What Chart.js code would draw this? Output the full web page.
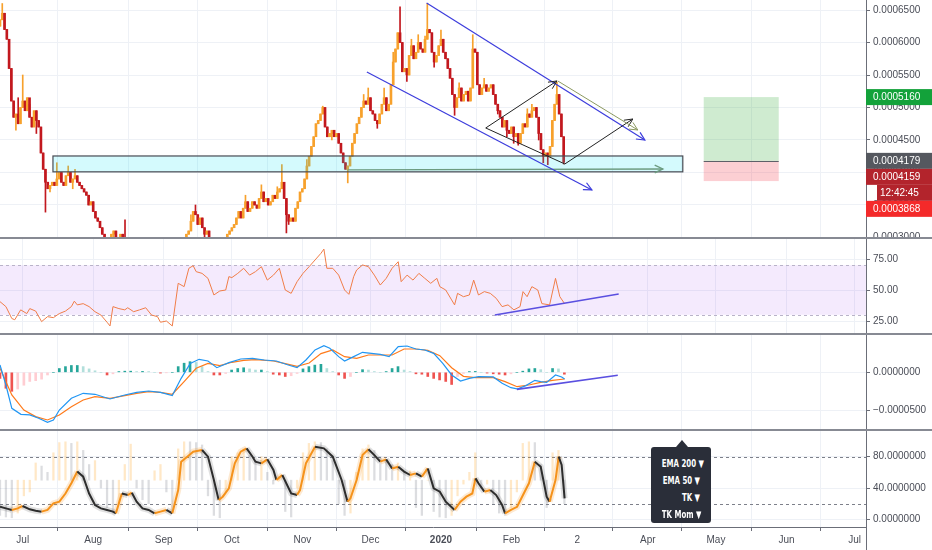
<!DOCTYPE html>
<html>
<head>
<meta charset="utf-8">
<title>Price chart</title>
<script src="https://cdn.jsdelivr.net/npm/chart.js@4.4.1/dist/chart.umd.min.js"></script>
<style>
  html, body { margin: 0; padding: 0; background: #fff; }
  body { position: relative; width: 932px; height: 550px; overflow: hidden; font-family: "Liberation Sans", Arial, sans-serif; }
  canvas { position: absolute; left: 0; }
  .sep { position: absolute; left: 0; width: 932px; height: 2px; background: #878a93; z-index: 2; }
  #tail { position: absolute; left: 866px; top: 527px; width: 1px; height: 23px; background: #6b6e78; }
  #menu {
    position: absolute; left: 651px; top: 447px; width: 60px; height: 76px;
    background: #2a2e39; border-radius: 3px; box-sizing: border-box;
    padding: 8px 11px 0 0; text-align: right; color: #fff; z-index: 3;
    font-family: "DejaVu Sans Condensed", "Liberation Sans", sans-serif;
    font-size: 10px; font-weight: bold; line-height: 17px;
  }
  #menu div { transform: scaleX(0.78); transform-origin: right center; white-space: nowrap; }
  #menu::before {
    content: ""; position: absolute; left: 25px; top: -7px;
    border-left: 6px solid transparent; border-right: 6px solid transparent; border-bottom: 7px solid #2a2e39;
  }
</style>
</head>
<body>
<canvas id="price" width="932" height="238" style="top:0"></canvas>
<canvas id="rsi" width="932" height="95" style="top:239px"></canvas>
<canvas id="macd" width="932" height="95" style="top:335px"></canvas>
<canvas id="stoch" width="932" height="119" style="top:431px"></canvas>
<div class="sep" style="top:237px"></div>
<div class="sep" style="top:333px"></div>
<div class="sep" style="top:429px"></div>
<div id="tail"></div>
<div id="menu"><div>EMA 200 ▼</div><div>EMA 50 ▼</div><div>TK ▼</div><div>TK Mom ▼</div></div>

<script>
// days are counted from 1 Jul 2019, prices are in units of 0.0001
const monthStarts = [0, 31, 62, 92, 123, 153, 184, 215, 244, 275, 305, 336, 366];
const monthNames = ["Jul", "Aug", "Sep", "Oct", "Nov", "Dec", "2020", "Feb", "2", "Apr", "May", "Jun", "Jul"];

const firstDay = -10;
const firstOpen = 6.25;
const closes = [
  6.35, 6.45, 6.2, 6.05, 5.6, 5.1, 4.85, 4.9, 4.75, 5.0,
  5.1, 4.95, 5.15, 4.85, 4.7, 4.95, 4.8, 4.7, 4.3, 4.05,
  3.85, 3.75, 3.8, 3.85, 3.8, 3.9, 4.0, 3.85, 3.8, 3.95,
  4.0, 3.85, 3.9, 3.95, 3.85, 3.8, 3.75, 3.7, 3.65, 3.5,
  3.55, 3.4, 3.3, 3.25, 3.15, 3.05, 2.95, 2.9, 2.95, 3.05,
  3.1, 3.0, 2.95, 3.05, 2.9, 2.85, 2.85, 2.8, 2.75, 2.8,
  2.85, 2.8, 2.7, 2.75, 2.8, 2.85, 2.8, 2.75, 2.8, 2.85,
  2.8, 2.75, 2.7, 2.65, 2.75, 2.8, 2.7, 2.65, 2.7, 2.75,
  2.85, 2.95, 3.05, 3.1, 3.25, 3.4, 3.35, 3.2, 3.3, 3.15,
  3.05, 3.1, 2.95, 2.9, 2.85, 2.9, 2.85, 2.9, 2.95, 3.0,
  3.05, 3.1, 3.15, 3.2, 3.3, 3.4, 3.3, 3.45, 3.55, 3.4,
  3.45, 3.55, 3.5, 3.45, 3.6, 3.7, 3.55, 3.6, 3.5, 3.55,
  3.65, 3.6, 3.7, 3.75, 3.85, 3.6, 3.35, 3.25, 3.3, 3.25,
  3.45, 3.55, 3.7, 3.75, 3.9, 4.1, 4.25, 4.4, 4.55, 4.75,
  4.8, 4.9, 5.0, 4.7, 4.55, 4.6, 4.65, 4.55, 4.6, 4.45,
  4.3, 4.15, 4.05, 4.1, 4.25, 4.45, 4.6, 4.75, 4.85, 5.0,
  5.1, 5.05, 5.15, 4.95, 4.9, 4.8, 4.75, 4.9, 5.05, 5.15,
  4.95, 5.05, 5.35, 5.7, 5.9, 6.15, 6.0, 5.55, 5.6, 5.5,
  5.8, 5.95, 5.75, 5.85, 6.0, 5.9, 5.85, 6.05, 6.2, 6.15,
  5.85, 5.7, 5.8, 5.95, 6.05, 5.85, 5.75, 5.6, 5.45, 5.2,
  5.0, 5.15, 5.3, 5.1, 5.2, 5.25, 5.1, 5.3, 5.9, 5.85,
  5.35, 5.2, 5.3, 5.35, 5.25, 5.3, 5.35, 5.2, 5.05, 4.95,
  4.85, 4.7, 4.8, 4.65, 4.6, 4.7, 4.55, 4.6, 4.45, 4.6,
  4.75, 4.7, 4.9, 4.85, 4.95, 5.0, 4.85, 4.6, 4.35, 4.25,
  4.3, 4.25, 4.4, 4.8, 5.05, 5.2, 4.9, 4.55, 4.159
];
// visible wicks, by day
const wickHigh = {
  "-9": 6.6, "-2": 5.15, 0: 5.5, 3: 5.05, 15: 4.15, 20: 4.1, 23: 4.05, 29: 3.65, 45: 3.27,
  74: 3.35, 76: 3.5, 98: 3.65, 105: 3.81, 112: 3.78, 114: 4.12, 125: 4.2, 132: 5.02,
  150: 5.2, 152: 5.3, 159: 5.3, 163: 5.85, 166: 6.55, 171: 6.05, 174: 6.12, 177: 6.1,
  178: 6.6, 184: 6.19, 192: 5.38, 198: 6.12, 203: 5.45, 222: 4.98, 224: 5.05, 235: 5.39
};
const wickLow = {
  "-3": 4.65, 6: 4.6, 10: 3.39, 12: 3.7, 22: 3.75, 40: 3.0, 80: 2.98, 116: 3.07, 117: 3.2,
  136: 4.5, 143: 3.84, 156: 4.68, 169: 5.4, 181: 5.62, 190: 4.88, 209: 4.9, 213: 4.55,
  216: 4.45, 218: 4.42, 227: 4.5, 229: 4.15, 231: 4.12, 238: 4.13
};
const priceTicks = [3.0, 3.5, 4.0, 4.5, 5.0, 5.5, 6.0, 6.5];

// drawings on the price pane: [day, price]
const zoneDays = [13.3, 290.4];
const zonePrices = [4.01, 4.254];
const zoneArrow = [[143, 4.04], [281.6, 4.054]];
const channelUpper = [[177.7, 6.608], [273.7, 4.5]];
const channelLower = [[151.4, 5.546], [250.4, 3.731]];
const diamondLeft = [203.7, 4.685];
const diamondTop = [235, 5.408];
const diamondBottom = [238.5, 4.131];
const diamondRight = [268.4, 4.823];
const targetArrow = [[235.4, 5.408], [270.6, 4.654]];
const positionDays = [299.6, 332.6];
const positionTarget = 5.16;
const positionEntry = 4.179;
const positionStop = 3.868;

// price scale tags (top to bottom), the last price carries the countdown
const tagPrices = [5.16, 4.179, 4.159, 3.868];
const lastPriceTag = 2;
const countdown = "12:42:45";

// RSI
const rsiDays = [
  -10, -7.4, -4.8, -3.5, -0.9, 1.8, 3.1, 5.7, 8.3, 10.9,
  13.5, 16.1, 18.8, 21.4, 22.7, 24, 26.6, 29.2, 31.8, 34.4,
  37.1, 38.4, 39.7, 42.3, 44.9, 46.2, 48.8, 51.4, 54.1, 56.7,
  59.3, 60.6, 63.2, 65.8, 68.4, 71, 73.1, 75, 76.3, 78.9,
  81.5, 84.1, 86.7, 89.3, 90.7, 92, 94.6, 97.2, 99.8, 102.4,
  105, 107.6, 110.3, 112.9, 115.5, 118.1, 120.7, 123.3, 126, 128.6,
  131.2, 132.5, 133.8, 136.4, 139, 141.6, 143.5, 145.6, 146.9, 149.5,
  152.1, 154.7, 157.3, 159.9, 162.5, 165.2, 166.5, 169.1, 171.7, 174.3,
  176.9, 179.5, 182.2, 183.5, 186.1, 188.7, 190, 191.3, 193.9, 196.5,
  198.4, 200.5, 203.1, 205.7, 208.3, 210.9, 213.5, 216.1, 218.8, 220.1,
  221.9, 224, 226.6, 228.4, 231.8, 234.4, 236.3, 238.4
];
const rsiVals = [
  40.6, 36.6, 27, 26, 34, 31, 35, 33, 24.5, 28.5,
  27.7, 31, 33, 36.6, 41, 38, 39, 36.6, 32.5, 29.8,
  24, 21, 36.6, 35, 34, 35.7, 32.5, 34, 35.7, 29.8,
  28.5, 24, 25, 21, 55.4, 52.7, 67.5, 69.6, 64.8, 63.4,
  59.4, 46, 49.2, 50, 60.8, 60, 63.4, 67.5, 62, 64.8,
  68.8, 58, 62, 67.5, 50, 47.3, 56.7, 63.4, 68.8, 74.2,
  79.6, 83, 67.5, 67.5, 62, 50, 46.5, 60.8, 66.1, 70.2,
  68.8, 62, 54, 59.4, 67.5, 72.8, 56.7, 62, 58, 63.4,
  59.4, 55.4, 59.4, 52.7, 50, 42, 38, 47.3, 44.6, 46,
  58, 46, 48.7, 47.3, 43.3, 36.6, 38, 34, 36.6, 48.7,
  44.6, 52.7, 50, 39, 38, 59.4, 44.6, 39
];
const rsiTrend = [[207.7, 29.8], [262.2, 46.8]];

// MACD, in units of 0.00001
const macdDays = [
  -10, -7.4, -4.8, -0.8, 3.1, 7, 10.9, 13.5, 16.1, 21.4,
  26.6, 31.8, 38.4, 44.9, 50.1, 55.4, 60.6, 65.8, 69.7, 73.7,
  77.6, 81.5, 85.4, 90.7, 95.9, 101.1, 106.3, 111.6, 116.8, 120.7,
  124.6, 128.6, 132.5, 135.1, 139, 141.6, 145.6, 149.5, 153.4, 157.3,
  161.2, 165.2, 169.1, 173, 176.9, 180.8, 184.8, 188.7, 192.6, 196.5,
  200.5, 207, 210.9, 214.8, 217.5, 221.4, 225.3, 227.9, 230.5, 234.4,
  237.1, 238.4
];
const macdVals = [
  0.96, -1.67, -4.74, -5.53, -5.61, -6.05, -6.58, -6.27, -4.96, -3.42,
  -2.76, -2.89, -3.51, -2.98, -2.63, -2.46, -2.63, -3.07, -0.79, 1.18,
  1.71, 1.49, 0.61, 1.27, 1.75, 1.84, 1.62, 1.49, 0.96, 0.61,
  1.62, 2.94, 3.51, 3.16, 2.06, 1.49, 2.06, 2.63, 2.5, 2.37,
  2.06, 3.38, 3.46, 3.07, 2.94, 2.5, 1.18, -0.35, -1.14, -0.79,
  -0.57, -0.61, -1.45, -2.02, -2.19, -1.75, -1.05, -1.23, -1.32, -0.35,
  -0.61, -0.88
];
const signalDays = [
  -10, -4.8, 0.5, 5.7, 10.9, 16.1, 21.4, 26.6, 31.8, 38.4,
  44.9, 50.1, 55.4, 60.6, 65.8, 71, 76.3, 81.5, 86.7, 92,
  97.2, 102.4, 110.3, 115.5, 120.7, 126, 131.2, 136.4, 141.6, 146.9,
  152.1, 157.3, 162.5, 167.8, 173, 178.2, 183.5, 188.7, 193.9, 199.2,
  207, 212.2, 217.5, 222.7, 227.9, 233.1, 238.4
];
const signalVals = [
  0.53, -2.98, -4.96, -5.83, -6.27, -5.61, -4.52, -3.64, -3.2, -3.42,
  -3.07, -2.76, -2.54, -2.63, -2.89, -1.23, 0.53, 1.18, 0.88, 1.32,
  1.58, 1.67, 1.49, 1.14, 0.79, 1.23, 2.46, 2.94, 2.06, 1.84,
  2.28, 2.28, 2.28, 3.07, 3.07, 2.89, 2.19, 0.61, -0.53, -0.7,
  -0.7, -1.23, -1.89, -1.67, -1.32, -1.05, -0.88
];
const macdTrend = [[217.4, -2.24], [261.8, -0.39]];

// histogram and momentum bars share one sampling grid
const gridDays = [
  -10, -7.4, -4.8, -2.2, 0.5, 3.1, 5.7, 8.3, 10.9, 13.5,
  16.1, 18.8, 21.4, 24, 26.6, 29.2, 31.8, 34.4, 37.1, 39.7,
  42.3, 44.9, 47.5, 50.1, 52.7, 55.4, 58, 60.6, 63.2, 65.8,
  68.4, 71, 73.6, 76.3, 78.9, 81.5, 84.1, 86.7, 89.3, 91.9,
  94.6, 97.2, 99.8, 102.4, 105, 107.6, 110.2, 112.9, 115.5, 118.1,
  120.7, 123.3, 125.9, 128.5, 131.2, 133.8, 136.4, 139, 141.6, 144.2,
  146.8, 149.5, 152.1, 154.7, 157.3, 159.9, 162.5, 165.1, 167.8, 170.4,
  173, 175.6, 178.2, 180.8, 183.4, 186.1, 188.7, 191.3, 193.9, 196.5,
  199.1, 201.7, 204.3, 207, 209.6, 212.2, 214.8, 217.4, 220, 222.7,
  225.3, 227.9, 230.5, 233.1, 235.7, 238.3
];
const macdHist = [
  -0.8, -2.1, -2.5, -2.2, -1.7, -1.2, -1.1, -0.9, -0.35, 0,
  0.5, 0.75, 0.9, 0.9, 0.75, 0.45, 0.2, 0, -0.35, -0.2,
  0.1, 0.15, 0.15, 0.1, 0.12, 0.1, 0, -0.1, -0.05, 0,
  0.75, 1.2, 1.4, 1.3, 0.75, 0.1, -0.35, -0.35, -0.15, 0.3,
  0.5, 0.6, 0.45, 0.3, 0.3, 0.1, -0.25, -0.35, -0.55, -0.45,
  -0.15, 0.45, 0.75, 0.95, 1.05, 0.5, 0.1, -0.35, -0.8, -0.55,
  0, 0.35, 0.3, 0.1, 0, 0.1, 0.5, 0.75, 0.3, 0.1,
  -0.2, -0.25, -0.55, -0.8, -1.0, -1.2, -1.6, -0.55, -0.15, 0.1,
  0.12, 0, -0.1, -0.2, -0.25, -0.35, -0.2, 0, 0.15, 0.45,
  0.5, 0.35, 0, 0.5, 0.45, -0.25
];
const momBars = [
  5, 3, 2, 8, 30, 35, 72, 68, 60, 85,
  98, 99, 97, 99, 88, 70, 75, 40, 15, 8,
  20, 70, 96, 40, 25, 20, 62, 70, 35, 10,
  90, 99, 99, 98, 95, 30, 5, 2, 35, 80,
  85, 90, 82, 75, 80, 60, 45, 55, 10, 3,
  40, 85, 97, 99, 98, 90, 75, 20, 5, 8,
  60, 90, 95, 88, 80, 75, 70, 72, 60, 62,
  15, 5, 50, 10, 3, 2, 5, 30, 45, 60,
  85, 40, 45, 20, 8, 5, 15, 35, 97, 99,
  98, 70, 15, 85, 88, 20
];

// TK momentum line
const tkDays = [
  -10, -7.4, -4.8, -2.2, -0.1, 3.1, 5.7, 8.3, 10.9, 13.5,
  16.1, 18.8, 21.4, 24, 26.6, 29.2, 31.8, 34.4, 37.1, 39.7,
  41, 42.3, 43.6, 46.2, 48, 50.1, 52.7, 55.4, 58, 60.6,
  63.2, 65.8, 68.4, 69.7, 72.4, 75, 78.9, 81.5, 84.1, 86.2,
  88, 90.7, 93.3, 95.9, 98.5, 101.1, 102.4, 105, 107.6, 110.3,
  111.6, 114.2, 118.1, 120.7, 122, 124.6, 128.6, 132.5, 136.4, 140.3,
  142.9, 144.2, 146.9, 149.5, 152.1, 154.7, 157.3, 159.9, 162.5, 165.2,
  167.8, 170.4, 173, 175.6, 178.2, 180.8, 183.5, 186.1, 190, 192.6,
  195.2, 197.8, 199.2, 200.5, 203.1, 205.7, 208.3, 210.9, 212.2, 214.8,
  217.5, 220.1, 222.7, 225.3, 227.9, 230.5, 231.8, 234.4, 235.8, 237.1,
  238.4
];
const tkVals = [
  16, 14, 12, 14, 17, 12.8, 11, 9.8, 12, 20.4,
  22.5, 33, 46, 61, 54.5, 33, 18.3, 14, 12, 9.8,
  7.7, 20.4, 33, 31, 34, 22.5, 14, 12, 7.7, 9.8,
  12, 7.7, 37.4, 73.6, 80, 86.4, 88.5, 80, 50.2, 24.7,
  28.9, 39.6, 71.5, 86.4, 90.6, 80, 73.6, 71.5, 76.6, 63,
  50.2, 56.6, 33, 31, 37.4, 71.5, 92.8, 90.6, 80, 50.2,
  22.5, 26.8, 50.2, 82, 89.4, 82, 73.6, 76.6, 65, 67.2,
  61, 56.6, 58.7, 54.5, 65, 39.6, 35.3, 22.5, 12, 22.5,
  28.9, 33, 52.3, 46, 35.3, 37.4, 31, 18.3, 7.7, 12,
  16, 31, 46, 73.6, 67.2, 28.9, 22.5, 50.2, 80, 69.4,
  26.8
];

// ---- styles ----
const GRID = "#eef1f6";
const AXIS = "#6b6e78";
const UP = "#f7a12c";
const DOWN = "#c2181e";
const BLUE = "#3c3cdc";
const PURPLE = "#5a4fe0";
const tagColors = ["#13a23a", "#55585f", "#b3242c", "#f42a2a"];

Chart.defaults.font.family = '"Liberation Sans", Arial, sans-serif';
Chart.defaults.font.size = 10;
Chart.defaults.color = "#4a4d57";

const pairs = (xs, ys) => xs.map((x, i) => ({ x, y: ys[i] }));
const line = (pts) => pts.map(([x, y]) => ({ x, y }));

function baseOptions(yMin, yMax, yTicks, yFormat, showTime) {
  return {
    responsive: false,
    animation: false,
    events: [],
    layout: { padding: 0, autoPadding: false },
    plugins: { legend: { display: false }, tooltip: { enabled: false } },
    scales: {
      x: {
        type: "linear", min: -10, max: 371, offset: false,
        afterBuildTicks: (s) => { s.ticks = monthStarts.map((v) => ({ value: v })); },
        afterFit: (s) => {
          s.height = showTime ? 23 : 0;
          s.paddingLeft = s.paddingRight = s.paddingTop = s.paddingBottom = 0;
        },
        grid: { color: GRID, drawTicks: showTime, tickLength: 4, tickColor: AXIS },
        border: { display: showTime, color: AXIS },
        ticks: {
          display: showTime, autoSkip: false, maxRotation: 0, padding: 3, color: "#4a4d57",
          callback: (v, i) => monthNames[i],
          font: (c) => ({ size: 10, weight: monthNames[c.index] === "2020" ? "bold" : "normal" })
        }
      },
      y: {
        position: "right", min: yMin, max: yMax,
        afterBuildTicks: (s) => { s.ticks = yTicks.map((v) => ({ value: v })); },
        afterFit: (s) => {
          s.width = 66;
          s.paddingLeft = s.paddingRight = s.paddingTop = s.paddingBottom = 0;
        },
        grid: { color: GRID, drawTicks: true, tickLength: 4, tickColor: AXIS },
        border: { color: AXIS },
        ticks: { padding: 3, callback: yFormat }
      }
    }
  };
}

// band and dashed levels behind the data
function guides(band, bandColor, levels, levelColor) {
  return {
    id: "guides",
    beforeDatasetsDraw(chart) {
      const { ctx, chartArea: a, scales: { y } } = chart;
      ctx.save();
      if (band) {
        const t = y.getPixelForValue(band[1]);
        const b = y.getPixelForValue(band[0]);
        ctx.fillStyle = bandColor;
        ctx.fillRect(a.left, t, a.width, b - t);
      }
      ctx.strokeStyle = levelColor;
      ctx.lineWidth = 1;
      ctx.setLineDash([3, 3]);
      levels.forEach((v) => {
        const yy = Math.round(y.getPixelForValue(v)) + 0.5;
        ctx.beginPath();
        ctx.moveTo(a.left, yy);
        ctx.lineTo(a.right, yy);
        ctx.stroke();
      });
      ctx.restore();
    }
  };
}

function arrow(ctx, a, b, color, width, head) {
  ctx.strokeStyle = color;
  ctx.lineWidth = width;
  ctx.beginPath();
  ctx.moveTo(a[0], a[1]);
  ctx.lineTo(b[0], b[1]);
  ctx.stroke();
  if (head) {
    const ang = Math.atan2(b[1] - a[1], b[0] - a[0]);
    ctx.beginPath();
    ctx.moveTo(b[0] - 9 * Math.cos(ang - 0.45), b[1] - 9 * Math.sin(ang - 0.45));
    ctx.lineTo(b[0], b[1]);
    ctx.lineTo(b[0] - 9 * Math.cos(ang + 0.45), b[1] - 9 * Math.sin(ang + 0.45));
    ctx.stroke();
  }
}

const priceDrawings = {
  id: "priceDrawings",
  afterDatasetsDraw(chart) {
    const { ctx, chartArea: a, scales: { x, y } } = chart;
    const P = (pt) => [x.getPixelForValue(pt[0]), y.getPixelForValue(pt[1])];
    ctx.save();
    ctx.beginPath();
    ctx.rect(a.left, a.top, a.width, a.height);
    ctx.clip();

    // support zone
    const zx0 = x.getPixelForValue(zoneDays[0]), zx1 = x.getPixelForValue(zoneDays[1]);
    const zy0 = y.getPixelForValue(zonePrices[1]), zy1 = y.getPixelForValue(zonePrices[0]);
    ctx.fillStyle = "rgba(0, 225, 245, 0.17)";
    ctx.fillRect(zx0, zy0, zx1 - zx0, zy1 - zy0);
    ctx.strokeStyle = "#474b53";
    ctx.lineWidth = 1.2;
    ctx.strokeRect(zx0, zy0, zx1 - zx0, zy1 - zy0);
    arrow(ctx, P(zoneArrow[0]), P(zoneArrow[1]), "#6c9c80", 1.4, true);

    // long position box
    const px0 = x.getPixelForValue(positionDays[0]), px1 = x.getPixelForValue(positionDays[1]);
    const yT = y.getPixelForValue(positionTarget), yE = y.getPixelForValue(positionEntry), yS = y.getPixelForValue(positionStop);
    ctx.fillStyle = "rgba(56, 170, 60, 0.24)";
    ctx.fillRect(px0, yT, px1 - px0, yE - yT);
    ctx.fillStyle = "rgba(242, 54, 69, 0.24)";
    ctx.fillRect(px0, yE, px1 - px0, yS - yE);
    ctx.strokeStyle = "#5d6068";
    ctx.lineWidth = 1;
    ctx.beginPath();
    ctx.moveTo(px0, Math.round(yE) + 0.5);
    ctx.lineTo(px1, Math.round(yE) + 0.5);
    ctx.stroke();

    // falling channel
    arrow(ctx, P(channelUpper[0]), P(channelUpper[1]), BLUE, 1.2, true);
    arrow(ctx, P(channelLower[0]), P(channelLower[1]), BLUE, 1.2, true);

    // diamond
    arrow(ctx, P(diamondLeft), P(diamondTop), "#222", 1, true);
    arrow(ctx, P(diamondLeft), P(diamondBottom), "#222", 1, false);
    arrow(ctx, P(diamondBottom), P(diamondRight), "#222", 1, true);
    arrow(ctx, P(targetArrow[0]), P(targetArrow[1]), "#8b9860", 1, true);
    ctx.restore();
  },
  afterDraw(chart) {
    const { ctx, chartArea: a, scales: { y } } = chart;
    const fmt = (p) => (p / 1e4).toFixed(7);
    let lastBottom = -Infinity;
    ctx.save();
    ctx.font = '10px "Liberation Sans", Arial, sans-serif';
    ctx.textBaseline = "middle";
    tagPrices.forEach((p, i) => {
      const rows = i === lastPriceTag ? 2 : 1;
      let cy = y.getPixelForValue(p);
      if (cy - 8 < lastBottom) cy = lastBottom + 8;
      ctx.fillStyle = tagColors[i];
      ctx.fillRect(a.right, cy - 8, chart.width - a.right, 16);
      ctx.fillStyle = "#fff";
      ctx.fillText(fmt(p), a.right + 7, cy + 0.5);
      if (rows === 2) {
        ctx.fillStyle = tagColors[i];
        ctx.fillRect(a.right + 11, cy + 8, chart.width - a.right - 11, 16);
        ctx.fillStyle = "#fff";
        ctx.fillText(countdown, a.right + 14, cy + 16.5);
      }
      lastBottom = cy - 8 + rows * 16;
    });
    ctx.restore();
  }
};

// ---- price pane ----
const candleDays = closes.map((_, i) => firstDay + i);
const opens = closes.map((c, i) => (i === 0 ? firstOpen : closes[i - 1]));
const highs = closes.map((c, i) => wickHigh[candleDays[i]] ?? Math.max(c, opens[i]));
const lows = closes.map((c, i) => wickLow[candleDays[i]] ?? Math.min(c, opens[i]));
const candleColors = closes.map((c, i) => (c >= opens[i] ? UP : DOWN));

new Chart(document.getElementById("price"), {
  type: "bar",
  data: {
    datasets: [
      {
        data: candleDays.map((d, i) => ({ x: d, y: [opens[i], closes[i]] })),
        backgroundColor: candleColors, barThickness: 2, grouped: false, order: 0
      },
      {
        data: candleDays.map((d, i) => ({ x: d, y: [lows[i], highs[i]] })),
        backgroundColor: candleColors, barThickness: 1, grouped: false, order: 1
      }
    ]
  },
  options: baseOptions(2.992, 6.654, priceTicks, (v) => (v / 1e4).toFixed(7), false),
  plugins: [priceDrawings]
});

// ---- RSI pane ----
new Chart(document.getElementById("rsi"), {
  type: "line",
  data: {
    datasets: [
      { data: line(rsiTrend), borderColor: PURPLE, borderWidth: 1.6, pointRadius: 0, order: 0 },
      { data: pairs(rsiDays, rsiVals), borderColor: "#f07d48", borderWidth: 1, pointRadius: 0, tension: 0, order: 1 }
    ]
  },
  options: baseOptions(14.52, 91.13, [25, 50, 75], (v) => v.toFixed(2), false),
  plugins: [guides([30, 70], "rgba(155, 60, 240, 0.11)", [30, 70], "#b9b3c9")]
});

// ---- MACD pane ----
const histColors = macdHist.map((v, i) => {
  const prev = i ? macdHist[i - 1] : v;
  if (v >= 0) return v >= prev ? "#26a69a" : "#b2dfdb";
  return v <= prev ? "#ef5350" : "#ffcdd2";
});
new Chart(document.getElementById("macd"), {
  type: "bar",
  data: {
    datasets: [
      { type: "line", data: line(macdTrend), borderColor: PURPLE, borderWidth: 1.6, pointRadius: 0, order: 0 },
      { type: "line", data: pairs(macdDays, macdVals), borderColor: "#2196f3", borderWidth: 1.2, pointRadius: 0, order: 1 },
      { type: "line", data: pairs(signalDays, signalVals), borderColor: "#ff7a1a", borderWidth: 1.2, pointRadius: 0, order: 1 },
      { data: pairs(gridDays, macdHist), backgroundColor: histColors, barThickness: 2, grouped: false, order: 2 }
    ]
  },
  options: baseOptions(-7.59, 4.91, [-5, 0], (v) => (v / 1e5).toFixed(7).replace("-", "\u2212"), false)
});

// ---- TK momentum pane ----
const momColors = momBars.map((v, i) => (i && v > momBars[i - 1] ? "rgba(255, 152, 0, 0.22)" : "rgba(120, 123, 134, 0.26)"));
const rising = (c, up, down) => (c.p1.parsed.y >= c.p0.parsed.y ? up : down);
new Chart(document.getElementById("stoch"), {
  type: "bar",
  data: {
    datasets: [
      {
        type: "line", data: pairs(tkDays, tkVals), borderWidth: 2, pointRadius: 0, order: 0,
        borderColor: "#f5921b",
        segment: { borderColor: (c) => rising(c, "#f5921b", "#2d2d2d") }
      },
      {
        type: "line", data: pairs(tkDays, tkVals), borderWidth: 6, pointRadius: 0, order: 1,
        borderColor: "rgba(245, 146, 27, 0.2)",
        segment: { borderColor: (c) => rising(c, "rgba(245, 146, 27, 0.2)", "rgba(60, 60, 60, 0.16)") }
      },
      {
        data: gridDays.map((d, i) => ({ x: d, y: [50, momBars[i]] })),
        backgroundColor: momColors, barThickness: 1.6, grouped: false, order: 2
      }
    ]
  },
  options: baseOptions(-9.8, 112.8, [0, 40, 80], (v) => v.toFixed(7), true),
  plugins: [guides(null, null, [20, 80], "#7d808a")]
});
</script>
</body>
</html>
